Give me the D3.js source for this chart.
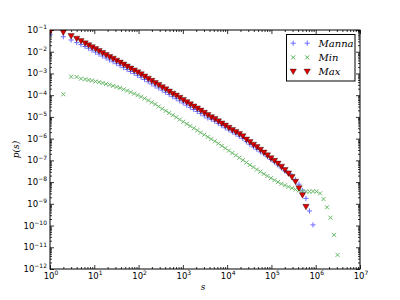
<!DOCTYPE html>
<html>
<head>
<style>
  body { margin: 0; padding: 0; background: #fff; }
  svg { display: block; }
  .tick-label { font-family: "DejaVu Sans", sans-serif; font-size: 8.5px; fill: #000; }
  .math { font-family: "DejaVu Serif", serif; font-style: italic; fill: #000; }
</style>
</head>
<body>
<div id="chart"></div>
<script src="https://d3js.org/d3.v7.min.js"></script>
<script>
// bin positions (avalanche size s), shared by all three series
const sizes = [1, 2, 3, 4, 5, 6.19, 7.43, 8.92, 10.7, 12.8, 15.4, 18.5, 22.2, 26.6, 31.9, 38.3,
  46.0, 55.2, 66.2, 79.5, 95.4, 114, 137, 165, 198, 237, 285, 342, 410, 492, 591, 709, 851,
  1021, 1225, 1470, 1764, 2117, 2540, 3048, 3657, 4389, 5267, 6320, 7584, 9100, 10921, 13105,
  15726, 18871, 22645, 27174, 32609, 39130, 46956, 56348, 67617, 81141, 97369, 116843, 140211,
  168254, 201905, 242286, 290743, 348892, 418670, 502404, 602885, 723462, 868154, 1041785,
  1250142, 1500170, 1800204, 2160245, 2592294, 3110753];

// log10 p(s)
const mannaLogP = [-1.22, -1.31, -1.46, -1.58, -1.67, -1.76, -1.84, -1.93, -2.02, -2.11, -2.20,
  -2.29, -2.38, -2.46, -2.55, -2.64, -2.73, -2.82, -2.91, -3.00, -3.09, -3.18, -3.28, -3.38,
  -3.48, -3.58, -3.67, -3.77, -3.87, -3.97, -4.07, -4.16, -4.26, -4.36, -4.46, -4.56, -4.66,
  -4.75, -4.85, -4.95, -5.05, -5.11, -5.20, -5.30, -5.40, -5.50, -5.60, -5.70, -5.79, -5.89,
  -5.99, -6.14, -6.26, -6.38, -6.49, -6.61, -6.70, -6.83, -6.96, -7.08, -7.21, -7.35, -7.49,
  -7.60, -7.70, -7.90, -8.10, -8.40, -8.75, -9.33, -9.97];

const minLogP = [null, -3.96, -3.15, -3.16, -3.24, -3.27, -3.30, -3.33, -3.37, -3.40, -3.44,
  -3.48, -3.52, -3.57, -3.62, -3.67, -3.73, -3.79, -3.86, -3.93, -4.00, -4.07, -4.15, -4.24,
  -4.33, -4.42, -4.52, -4.62, -4.72, -4.82, -4.92, -5.02, -5.12, -5.22, -5.32, -5.42, -5.52,
  -5.62, -5.72, -5.82, -5.92, -6.02, -6.12, -6.22, -6.33, -6.44, -6.55, -6.66, -6.77, -6.88,
  -6.99, -7.10, -7.21, -7.31, -7.42, -7.52, -7.62, -7.72, -7.82, -7.91, -8.00, -8.08, -8.15,
  -8.22, -8.28, -8.34, -8.38, -8.41, -8.43, -8.44, -8.43, -8.43, -8.52, -8.78, -9.16, -9.64,
  -10.43, -11.35];

const maxLogP = [-1.08, -1.11, -1.28, -1.40, -1.51, -1.615, -1.70, -1.79, -1.88, -1.97, -2.06,
  -2.15, -2.24, -2.32, -2.41, -2.50, -2.59, -2.68, -2.77, -2.86, -2.95, -3.04, -3.14, -3.24,
  -3.34, -3.44, -3.53, -3.63, -3.73, -3.83, -3.93, -4.02, -4.12, -4.22, -4.32, -4.42, -4.52,
  -4.61, -4.71, -4.81, -4.91, -5.01, -5.10, -5.20, -5.30, -5.40, -5.50, -5.60, -5.69, -5.79,
  -5.89, -6.04, -6.16, -6.28, -6.39, -6.51, -6.64, -6.77, -6.90, -7.02, -7.15, -7.29, -7.44,
  -7.60, -7.77, -7.98, -8.28, -8.60, -9.14];

const seriesNames = ['Manna', 'Min', 'Max'];
const xDecades = [0, 1, 2, 3, 4, 5, 6, 7];
const yDecades = [-1, -2, -3, -4, -5, -6, -7, -8, -9, -10, -11, -12];

const width = 400, height = 300;
const margin = { left: 50, right: 40, top: 30, bottom: 31 };

const svg = d3.select('#chart').append('svg')
  .attr('width', width)
  .attr('height', height);

const x = d3.scaleLog().domain([1, 1e7]).range([margin.left, width - margin.right]);
const y = d3.scaleLog().domain([1e-12, 1e-1]).range([height - margin.bottom, margin.top]);

// minor ticks at 2..9 of every decade
const minorX = [], minorY = [];
xDecades.slice(0, -1).forEach(d => { for (let m = 2; m < 10; m++) minorX.push(m * Math.pow(10, d)); });
yDecades.slice(1).forEach(d => { for (let m = 2; m < 10; m++) minorY.push(m * Math.pow(10, d)); });
const majorX = xDecades.map(d => Math.pow(10, d));
const majorY = yDecades.map(d => Math.pow(10, d));

function drawAxis(gen, tx, ty, values, size) {
  const g = svg.append('g')
    .attr('transform', `translate(${tx},${ty})`)
    .call(gen.tickValues(values).tickSize(size).tickFormat(''));
  g.select('.domain').remove();
  g.selectAll('line').attr('stroke', '#000').attr('stroke-width', 0.8);
  return g;
}
const x0 = margin.left, x1 = width - margin.right;
const y0 = margin.top, y1 = height - margin.bottom;

// inward ticks on all four sides
drawAxis(d3.axisBottom(x), 0, y1, majorX, -4);
drawAxis(d3.axisBottom(x), 0, y1, minorX, -2);
drawAxis(d3.axisTop(x), 0, y0, majorX, -4);
drawAxis(d3.axisTop(x), 0, y0, minorX, -2);
drawAxis(d3.axisLeft(y), x0, 0, majorY, -4);
drawAxis(d3.axisLeft(y), x0, 0, minorY, -2);
drawAxis(d3.axisRight(y), x1, 0, majorY, -4);
drawAxis(d3.axisRight(y), x1, 0, minorY, -2);

// tick labels 10^n
function powLabel(sel, exp) {
  sel.append('tspan').text('10');
  sel.append('tspan').attr('dy', -3.6).attr('font-size', '6px')
    .text(exp < 0 ? '\u2212' + (-exp) : exp);
}
xDecades.forEach(d => {
  svg.append('text').attr('class', 'tick-label')
    .attr('x', x(Math.pow(10, d)) + 1).attr('y', y1 + 10)
    .attr('text-anchor', 'middle')
    .call(powLabel, d);
});
yDecades.forEach(d => {
  svg.append('text').attr('class', 'tick-label')
    .attr('x', x0 - 3).attr('y', y(Math.pow(10, d)) + 3)
    .attr('text-anchor', 'end')
    .call(powLabel, d);
});

// axis labels
svg.append('text').attr('class', 'math').attr('fill', '#000')
  .attr('x', (x0 + x1) / 2 - 2).attr('y', height - 10)
  .attr('text-anchor', 'middle').attr('font-size', '9px').text('s');
svg.append('text').attr('class', 'math').attr('fill', '#000')
  .attr('transform', `translate(19,${(y0 + y1) / 2}) rotate(-90)`)
  .attr('text-anchor', 'middle').attr('font-size', '9px').text('p(s)');

// data
function points(logs) {
  return sizes.map((s, i) => ({ s: s, p: logs[i] == null ? null : Math.pow(10, logs[i]) }))
    .filter((d, i) => i < logs.length && d.p != null);
}

svg.append('clipPath').attr('id', 'plot-clip')
  .append('rect').attr('x', x0).attr('y', y0).attr('width', x1 - x0).attr('height', y1 - y0);

const plot = svg.append('g').attr('clip-path', 'url(#plot-clip)');

const markers = {
  Manna: (g, c) => g.append('path').attr('d', 'M-2.6,0H2.6M0,-2.6V2.6')
    .attr('stroke', c || '#6f6fff').attr('stroke-width', 1).attr('fill', 'none'),
  Min: (g, c) => g.append('path').attr('d', 'M-2,-2L2,2M-2,2L2,-2')
    .attr('stroke', c || '#66b866').attr('stroke-width', 1).attr('fill', 'none'),
  Max: (g) => g.append('path').attr('d', 'M-3.2,-2.5L3.2,-2.5L0,3Z')
    .attr('fill', '#dd0000').attr('stroke', '#000').attr('stroke-opacity', 0.4).attr('stroke-width', 0.9)
};

[[mannaLogP, 'Manna'], [minLogP, 'Min'], [maxLogP, 'Max']].forEach(([logs, name]) => {
  plot.append('g').selectAll('g')
    .data(points(logs))
    .enter().append('g')
    .attr('transform', d => `translate(${x(d.s)},${y(d.p)})`)
    .each(function() { markers[name](d3.select(this)); });
});

// frame
svg.append('rect').attr('x', x0).attr('y', y0).attr('width', x1 - x0).attr('height', y1 - y0)
  .attr('fill', 'none').attr('stroke', '#000').attr('stroke-width', 1);

// legend
const legendColors = { Manna: '#6a6aff', Min: '#55b055', Max: null };
const legend = svg.append('g');
legend.append('rect').attr('x', 286.5).attr('y', 34.5).attr('width', 68.5).attr('height', 46.5)
  .attr('fill', '#fff').attr('stroke', '#000').attr('stroke-width', 1);
seriesNames.forEach((name, i) => {
  const ry = 43.2 + i * 14.2;
  [293.2, 307.2].forEach(mx => {
    markers[name](legend.append('g').attr('transform', `translate(${mx},${ry})`), legendColors[name]);
  });
  legend.append('text').attr('class', 'math').attr('fill', '#000')
    .attr('x', 318.5).attr('y', ry + 3.5).attr('font-size', '10px').text(name);
});
</script>
</body>
</html>
